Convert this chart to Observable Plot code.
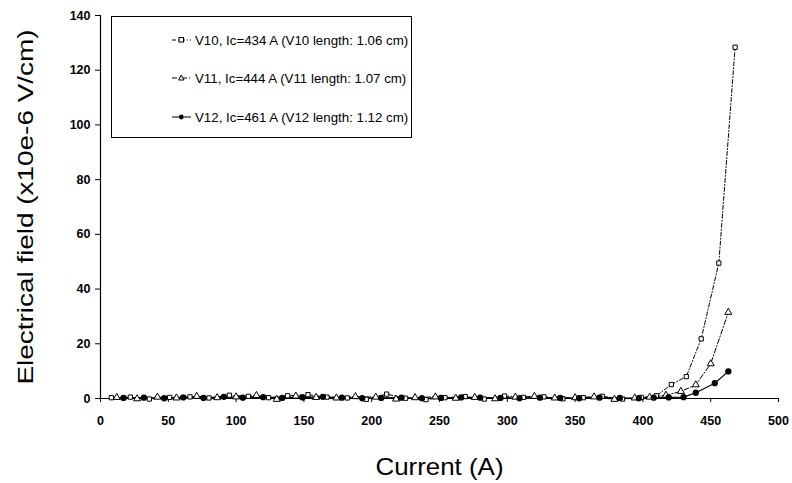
<!DOCTYPE html>
<html>
<head>
<meta charset="utf-8">
<script src="https://cdn.jsdelivr.net/npm/d3@7"></script>
<script src="https://cdn.jsdelivr.net/npm/@observablehq/plot@0.6"></script>
<style>
  html, body { margin: 0; padding: 0; background: #fff; }
  #wrap { position: relative; width: 792px; height: 483px; font-family: "Liberation Sans", Arial, sans-serif; }
  #legend { position: absolute; left: 111px; top: 16px; width: 301px; height: 122px; border: 1.5px solid #000; background: #fff; box-sizing: border-box; }
  .row { position: absolute; left: 60px; height: 20px; display: flex; align-items: center; font-size: 13.3px; color: #000; white-space: nowrap; }
  .row svg { margin-right: 4px; }
</style>
</head>
<body>
<div id="wrap"></div>
<script>
// Series names
const seriesNames = [
  "V10, Ic=434 A (V10 length: 1.06 cm)",
  "V11, Ic=444 A (V11 length: 1.07 cm)",
  "V12, Ic=461 A (V12 length: 1.12 cm)"
];
// Tick values
const xTicks = [0, 50, 100, 150, 200, 250, 300, 350, 400, 450, 500];
const yTicks = [0, 20, 40, 60, 80, 100, 120, 140];

// V10
const v10Current = [8, 22, 36, 51, 66, 80, 95, 109, 124, 138, 153, 167, 182, 196, 211, 225, 240, 254, 269, 283, 298, 312, 327, 341, 356, 370, 385, 399, 410, 421, 432, 443, 456, 468];
const v10Field   = [0.3, 0.5, -0.2, 0.4, 0.6, 0.2, 1.2, 0.8, 0.3, 1.0, 1.4, 0.5, 0.2, -0.3, 1.6, 0.1, -0.4, 0.3, 0.7, -0.2, 0.9, 0.4, 0.6, -0.1, 0.3, 0.8, -0.2, 0.4, 1.0, 5.1, 8.0, 21.8, 49.5, 128.4];
// V11
const v11Current = [12, 27, 42, 56, 71, 86, 100, 115, 130, 144, 159, 174, 188, 203, 218, 232, 247, 262, 276, 291, 306, 320, 335, 350, 364, 379, 394, 405, 417, 428, 439, 450, 463];
const v11Field   = [0.4, -0.1, 0.5, 0.2, 0.8, 0.3, 0.6, 1.1, -0.3, 0.9, 0.4, 0.2, 0.7, 0.5, -0.2, 0.3, 0.6, 0.1, 0.4, -0.1, 0.5, 0.8, 0.2, 0.3, 0.6, -0.3, 0.2, 0.5, 1.2, 2.6, 5.0, 12.7, 31.5];
// V12
const v12Current = [17, 32, 47, 61, 76, 91, 105, 120, 134, 149, 164, 178, 193, 207, 222, 237, 251, 266, 280, 295, 309, 324, 339, 353, 368, 383, 397, 408, 419, 430, 439, 453, 463];
const v12Field   = [0.2, 0.3, 0.1, 0.4, 0.2, 0.6, 0.3, 0.5, 0.2, 0.4, 0.6, 0.3, 0.1, 0.2, 0.3, 0.1, 0.2, 0.4, 0.3, 0.2, 0.1, 0.3, 0.2, 0.1, 0.3, 0.2, 0.1, 0.3, 0.4, 0.5, 2.1, 5.6, 9.9];

const v10 = v10Current.map((c, i) => ({current: c, field: v10Field[i]}));
const v11 = v11Current.map((c, i) => ({current: c, field: v11Field[i]}));
const v12 = v12Current.map((c, i) => ({current: c, field: v12Field[i]}));

const font = '"Liberation Sans", Arial, sans-serif';

const chart = Plot.plot({
  width: 792,
  height: 483,
  marginLeft: 100,
  marginRight: 14,
  marginTop: 15,
  marginBottom: 85,
  style: {fontFamily: font, fontSize: "12.5px", background: "#fff", color: "#000"},
  x: {domain: [0, 500], ticks: xTicks, label: null},
  y: {domain: [0, 140], ticks: yTicks, label: null},
  marks: [
    Plot.axisX({ticks: xTicks, tickSize: 4, tickPadding: 14, fontSize: 12.5, fontWeight: "bold", label: "Current (A)", labelAnchor: "center", labelOffset: 76, labelArrow: "none"}),
    Plot.axisY({ticks: yTicks, tickSize: 5, tickPadding: 5, fontSize: 12.5, fontWeight: "bold", label: "Electrical field (x10e-6 V/cm)", labelAnchor: "center", labelOffset: 83, labelArrow: "none"}),
    Plot.ruleY([0], {stroke: "#000", strokeWidth: 1.2}),
    Plot.ruleX([0], {stroke: "#000", strokeWidth: 1.2}),
    Plot.line(v10, {x: "current", y: "field", stroke: "#000", strokeWidth: 1, strokeDasharray: "4,2,1,2"}),
    Plot.line(v11, {x: "current", y: "field", stroke: "#000", strokeWidth: 1, strokeDasharray: "5,2,1,2"}),
    Plot.line(v12, {x: "current", y: "field", stroke: "#000", strokeWidth: 1.2}),
    Plot.dot(v10, {x: "current", y: "field", symbol: "square", r: 2.4, fill: "#fff", stroke: "#000", strokeWidth: 1}),
    Plot.dot(v11, {x: "current", y: "field", symbol: "triangle", r: 2.6, fill: "#fff", stroke: "#000", strokeWidth: 1}),
    Plot.dot(v12, {x: "current", y: "field", symbol: "circle", r: 2.4, fill: "#000", stroke: "#000"})
  ]
});

// axis labels: larger, stretched like the scanned original
const xl = chart.querySelector('[aria-label="x-axis label"] text');
if (xl) { xl.style.fontSize = "24px"; xl.style.fontWeight = "normal"; xl.setAttribute("textLength", "128"); xl.setAttribute("lengthAdjust", "spacingAndGlyphs"); }
const yl = chart.querySelector('[aria-label="y-axis label"] text');
if (yl) { yl.style.fontSize = "22px"; yl.style.fontWeight = "normal"; yl.setAttribute("textLength", "355"); yl.setAttribute("lengthAdjust", "spacingAndGlyphs"); }

const wrap = document.getElementById("wrap");
wrap.appendChild(chart);

// Legend
const legend = document.createElement("div");
legend.id = "legend";
const samples = [
  {dash: "4,2,1,2", sym: "square"},
  {dash: "5,2,1,2", sym: "triangle"},
  {dash: null, sym: "circle"}
];
const rowTops = [13, 51, 90];
seriesNames.forEach((name, i) => {
  const row = document.createElement("div");
  row.className = "row";
  row.style.top = rowTops[i] + "px";
  const s = samples[i];
  let marker;
  if (s.sym === "square") marker = '<rect x="7" y="7.5" width="4.5" height="4.5" fill="#fff" stroke="#000"/>';
  else if (s.sym === "triangle") marker = '<path d="M9.3,7 L12,12 L6.6,12 Z" fill="#fff" stroke="#000"/>';
  else marker = '<circle cx="9.3" cy="10" r="2.4" fill="#000"/>';
  row.innerHTML = '<svg width="19" height="20"><line x1="0" y1="10" x2="19" y2="10" stroke="#000" stroke-width="1"' + (s.dash ? ' stroke-dasharray="' + s.dash + '"' : '') + '/>' + marker + '</svg><span>' + name + '</span>';
  legend.appendChild(row);
});
wrap.appendChild(legend);
</script>
</body>
</html>
